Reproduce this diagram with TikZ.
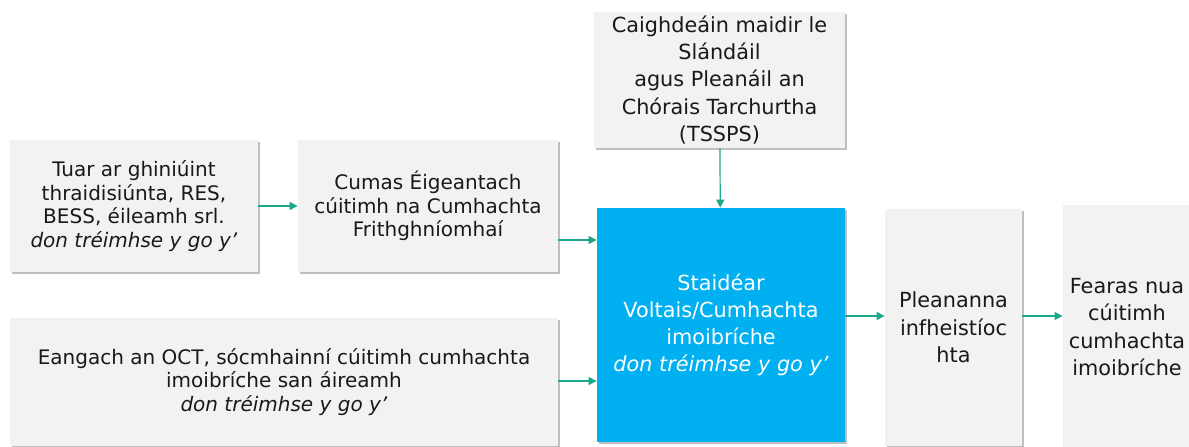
\documentclass[tikz,border=0pt]{standalone}
\usepackage{fontspec}
\setmainfont{DejaVu Sans}
\usetikzlibrary{arrows.meta,shadows}

\definecolor{boxgray}{HTML}{F2F2F2}
\definecolor{staidblue}{HTML}{00B0F0}
\definecolor{arrowteal}{HTML}{1AA88B}

\tikzset{
    box/.style={rectangle,fill=boxgray,align=center,inner sep=0pt,text=black!90,
        drop shadow={shadow xshift=1.2pt,shadow yshift=-1.2pt,fill=black,opacity=0.25}},
    bluebox/.style={box,fill=staidblue,text=white},
    flow/.style={draw=arrowteal,line width=0.6pt,-{Triangle[length=4pt,width=4pt]}}
}

\begin{document}
\begin{tikzpicture}[x=0.5pt,y=-0.5pt]
    \useasboundingbox (0,0) rectangle (1189,446);
    \clip (0,0) rectangle (1189,446);

        \begin{scope}[every node/.append style={font=\fontsize{10}{11.8}\selectfont}]
            \node[box,minimum width=124pt,minimum height=66pt] (tuar) at (134,206)
                {Tuar ar ghiniúint\\thraidisiúnta, RES,\\BESS, éileamh srl.\\\textit{don tréimhse y go y’}};
            \node[box,minimum width=130pt,minimum height=66pt] (cumas) at (428,206)
                {Cumas Éigeantach\\cúitimh na Cumhachta\\Frithghníomhaí};
            \node[box,minimum width=274pt,minimum height=64pt] (eangach) at (284,382)
                {Eangach an OCT, sócmhainní cúitimh cumhachta\\imoibríche san áireamh\\\textit{don tréimhse y go y’}};
        \end{scope}

        \begin{scope}[every node/.append style={font=\fontsize{10.4}{13.6}\selectfont}]
            \node[box,minimum width=125.5pt,minimum height=68pt] (caigh) at (719.5,80)
                {Caighdeáin maidir le\\Slándáil\\agus Pleanáil an\\Chórais Tarchurtha\\(TSSPS)};
            \node[bluebox,minimum width=124pt,minimum height=117pt] (staid) at (721,325)
                {Staidéar\\Voltais/Cumhachta\\imoibríche\\\textit{don tréimhse y go y’}};
        \end{scope}

        \begin{scope}[every node/.append style={font=\fontsize{10.4}{13.8}\selectfont}]
            \node[box,minimum width=68.5pt,minimum height=118.5pt] (plean) at (953.5,327.5)
                {Pleananna\\infheistíoc\\hta};
            \node[box,minimum width=64pt,minimum height=122pt] (fearas) at (1127,327)
                {Fearas nua\\cúitimh\\cumhachta\\imoibríche};
        \end{scope}

        \coordinate (y1) at (0,240);
        \coordinate (y2) at (0,381);
        \coordinate (y3) at (0,316);

        \begin{scope}[every edge/.style={flow}]
            \path (tuar) edge (cumas);
            \path (cumas.east |- y1) edge (staid.west |- y1);
            \path (eangach.east |- y2) edge (staid.west |- y2);
            \path (caigh) edge (staid);
            \path (staid.east |- y3) edge (plean.west |- y3);
            \path (plean.east |- y3) edge (fearas.west |- y3);
        \end{scope}

    \end{tikzpicture}
\end{document}
